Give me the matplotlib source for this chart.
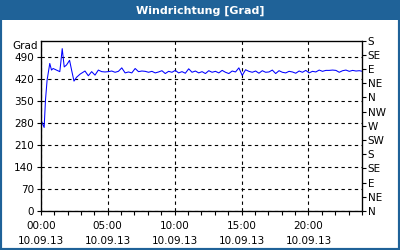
import matplotlib
matplotlib.use("Agg")
import matplotlib.pyplot as plt
from matplotlib.patches import Rectangle

# wind direction in degrees (unwrapped, > 360 means past north)
start_hours = [0.0, 0.25, 0.35, 0.47, 0.67, 0.8, 0.92, 1.17, 1.42, 1.5, 1.6,
               1.75, 1.92, 2.15, 2.3, 2.48, 2.67, 2.93, 3.3, 3.55]
start_values = [290, 265, 352, 415, 468, 447, 452, 447, 442, 473, 515,
                457, 463, 478, 447, 412, 424, 434, 444, 429]

rest_hours = [3.8 + 0.25 * i for i in range(82)]
rest_values = [442, 431, 447, 442, 441, 442, 444, 440, 443, 454, 438, 441,
               438, 452, 442, 444, 443, 440, 443, 438, 441, 445, 436, 443,
               440, 446, 438, 442, 437, 451, 440, 444, 438, 442, 436, 445,
               440, 443, 438, 446, 440, 436, 444, 441, 454, 430, 448, 443,
               440, 444, 437, 445, 440, 441, 447, 436, 445, 440, 438, 443,
               441, 437, 444, 440, 446, 438, 443, 441, 447, 443, 446, 446,
               447, 446, 440, 445, 447, 443, 446, 444, 445, 443]

hours = start_hours + rest_hours
values = start_values + rest_values

left_ticks = [0, 70, 140, 210, 280, 350, 420, 490]
right_ticks = [0, 45, 90, 135, 180, 225, 270, 315, 360, 405, 450, 495, 540]
right_labels = ["N", "NE", "E", "SE", "S", "SW", "W", "NW", "N", "NE", "E", "SE", "S"]
x_major = [0, 5, 10, 15, 20]
x_labels = ["00:00\n10.09.13", "05:00\n10.09.13", "10:00\n10.09.13",
            "15:00\n10.09.13", "20:00\n10.09.13"]

blue = "#1f6298"
fs = 7.5

fig = plt.figure(figsize=(4, 2.5), dpi=100, facecolor="white")
fig.patches.append(Rectangle((0, 0), 1, 1, transform=fig.transFigure,
                             facecolor="none", edgecolor=blue, linewidth=3,
                             zorder=-1))
fig.patches.append(Rectangle((0, 0.92), 1, 0.08, transform=fig.transFigure,
                             facecolor=blue, edgecolor="none", zorder=-1))
fig.text(0.5, 0.958, "Windrichtung [Grad]", color="white", fontsize=8,
         fontweight="bold", ha="center", va="center")

ax = fig.add_axes([0.102, 0.156, 0.803, 0.681])
ax.plot(hours, values, color="#0000ff", linewidth=0.75)
ax.set_xlim(0, 24)
ax.set_ylim(0, 540)

ax.set_yticks(left_ticks)
ax.set_xticks(x_major)
ax.set_xticklabels(x_labels, linespacing=1.6)
ax.set_xticks(range(0, 25), minor=True)
ax.tick_params(direction="out", length=3, width=0.8, labelsize=fs, pad=2)
ax.tick_params(axis="x", which="major", pad=4)
ax.tick_params(axis="x", which="minor", direction="out", length=3, width=0.8)
ax.grid(True, which="major", color="black", linestyle=(0, (3, 3)), linewidth=0.8)
for s in ax.spines.values():
    s.set_linewidth(0.9)

ax2 = ax.twinx()
ax2.set_ylim(0, 540)
ax2.set_yticks(right_ticks)
ax2.set_yticklabels(right_labels)
ax2.tick_params(direction="out", length=3, width=0.8, labelsize=fs, pad=1)

ax.text(-0.01, 1.0, "Grad", transform=ax.transAxes, fontsize=fs,
        ha="right", va="top")

fig.savefig("out.png", dpi=100)
